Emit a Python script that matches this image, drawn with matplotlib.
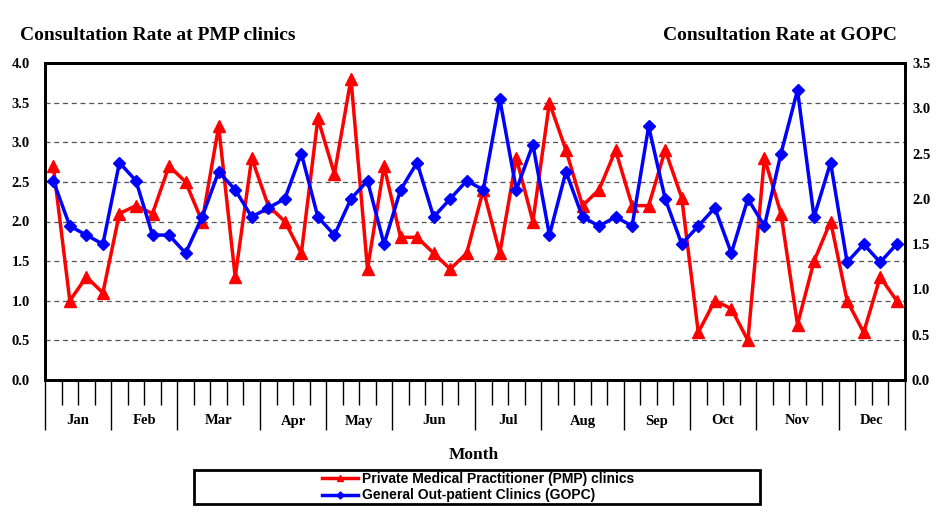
import matplotlib
matplotlib.use("Agg")
import matplotlib.pyplot as plt
import matplotlib.transforms as mtransforms
from matplotlib.patches import Rectangle
from matplotlib import font_manager

# Weekly consultation rates (52 weeks)
pmp_rate = [2.7, 1.0, 1.3, 1.1, 2.1, 2.2, 2.1, 2.7, 2.5, 2.0,
            3.2, 1.3, 2.8, 2.2, 2.0, 1.6, 3.3, 2.6, 3.8, 1.4,
            2.7, 1.8, 1.8, 1.6, 1.4, 1.6, 2.4, 1.6, 2.8, 2.0,
            3.5, 2.9, 2.2, 2.4, 2.9, 2.2, 2.2, 2.9, 2.3, 0.6,
            1.0, 0.9, 0.5, 2.8, 2.1, 0.7, 1.5, 2.0, 1.0, 0.6,
            1.3, 1.0]
gopc_rate = [2.2, 1.7, 1.6, 1.5, 2.4, 2.2, 1.6, 1.6, 1.4, 1.8,
             2.3, 2.1, 1.8, 1.9, 2.0, 2.5, 1.8, 1.6, 2.0, 2.2,
             1.5, 2.1, 2.4, 1.8, 2.0, 2.2, 2.1, 3.1, 2.1, 2.6,
             1.6, 2.3, 1.8, 1.7, 1.8, 1.7, 2.8, 2.0, 1.5, 1.7,
             1.9, 1.4, 2.0, 1.7, 2.5, 3.2, 1.8, 2.4, 1.3, 1.5,
             1.3, 1.5]
months = ["Jan", "Feb", "Mar", "Apr", "May", "Jun",
          "Jul", "Aug", "Sep", "Oct", "Nov", "Dec"]
weeks_per_month = [4, 4, 5, 4, 4, 5, 4, 5, 4, 4, 5, 4]

serif = "Liberation Serif"
names = {f.name for f in font_manager.fontManager.ttflist}
legend_font = "Liberation Sans Narrow" if "Liberation Sans Narrow" in names else "Liberation Sans"

fig = plt.figure(figsize=(9.48, 5.14), dpi=100)
ax = fig.add_axes([45 / 948, 1 - 380 / 514, 860 / 948, 317 / 514])
ax2 = ax.twinx()

n = len(pmp_rate)
x = [i + 0.5 for i in range(n)]

ln1, = ax.plot(x, pmp_rate, color="#ff0000", lw=2.5, marker="^", ms=8,
               label="Private Medical Practitioner (PMP) clinics", zorder=3)
ln2, = ax2.plot(x, gopc_rate, color="#0000ff", lw=2.5, marker="D", ms=6,
                label="General Out-patient Clinics (GOPC)", zorder=3)

ax.set_xlim(0, n)
ax.set_ylim(0, 4.0)
ax2.set_ylim(0, 3.5)
ax.set_yticks([i * 0.5 for i in range(9)])
ax2.set_yticks([i * 0.5 for i in range(8)])
ax.set_yticklabels([f"{i * 0.5:.1f}" for i in range(9)])
ax2.set_yticklabels([f"{i * 0.5:.1f}" for i in range(8)])
for a in (ax, ax2):
    a.tick_params(axis="y", length=0, labelsize=10.5)
    for lab in a.get_yticklabels():
        lab.set_fontfamily(serif)
        lab.set_fontweight("bold")
ax2.tick_params(axis="y", pad=5)
ax.tick_params(axis="y", pad=11)

for val in [i * 0.5 for i in range(1, 8)]:
    ax.axhline(val, color="#555555", lw=0.9, ls=(0, (4, 3)), zorder=1)

# week ticks (minor) and month separators (major)
bounds = [0]
for w in weeks_per_month:
    bounds.append(bounds[-1] + w)
ax.set_xticks(bounds)
ax.set_xticks(range(n + 1), minor=True)
ax.tick_params(axis="x", which="major", length=36, width=1, direction="out", labelbottom=False)
ax.tick_params(axis="x", which="minor", length=18, width=1, direction="out")

trans = mtransforms.blended_transform_factory(ax.transData, fig.transFigure)
for m, lo, hi in zip(months, bounds[:-1], bounds[1:]):
    ax.text((lo + hi) / 2, 1 - 421 / 514, m, transform=trans, ha="center", va="center",
            fontsize=10.5, fontweight="bold", family=serif)

for a in (ax, ax2):
    for s in a.spines.values():
        s.set_linewidth(2)

fig.text(20 / 948, 1 - 36 / 514, "Consultation Rate at PMP clinics", ha="left", va="center",
         fontsize=14, fontweight="bold", family=serif)
fig.text(897 / 948, 1 - 36 / 514, "Consultation Rate at GOPC", ha="right", va="center",
         fontsize=14, fontweight="bold", family=serif)
fig.text(474 / 948, 1 - 455 / 514, "Month", ha="center", va="center",
         fontsize=12.5, fontweight="bold", family=serif)

fig.patches.append(Rectangle((194 / 948, 1 - 504 / 514), 566 / 948, 34 / 514,
                             transform=fig.transFigure, fill=False, lw=2, edgecolor="black"))
fig.legend(handles=[ln1, ln2], loc="center", bbox_to_anchor=(478 / 948, 1 - 487 / 514),
           frameon=False, handlelength=2.6, handletextpad=0.3, labelspacing=0.2,
           markerscale=0.6, prop={"family": legend_font, "weight": "bold", "size": 10})

fig.savefig("out.png", dpi=100)
